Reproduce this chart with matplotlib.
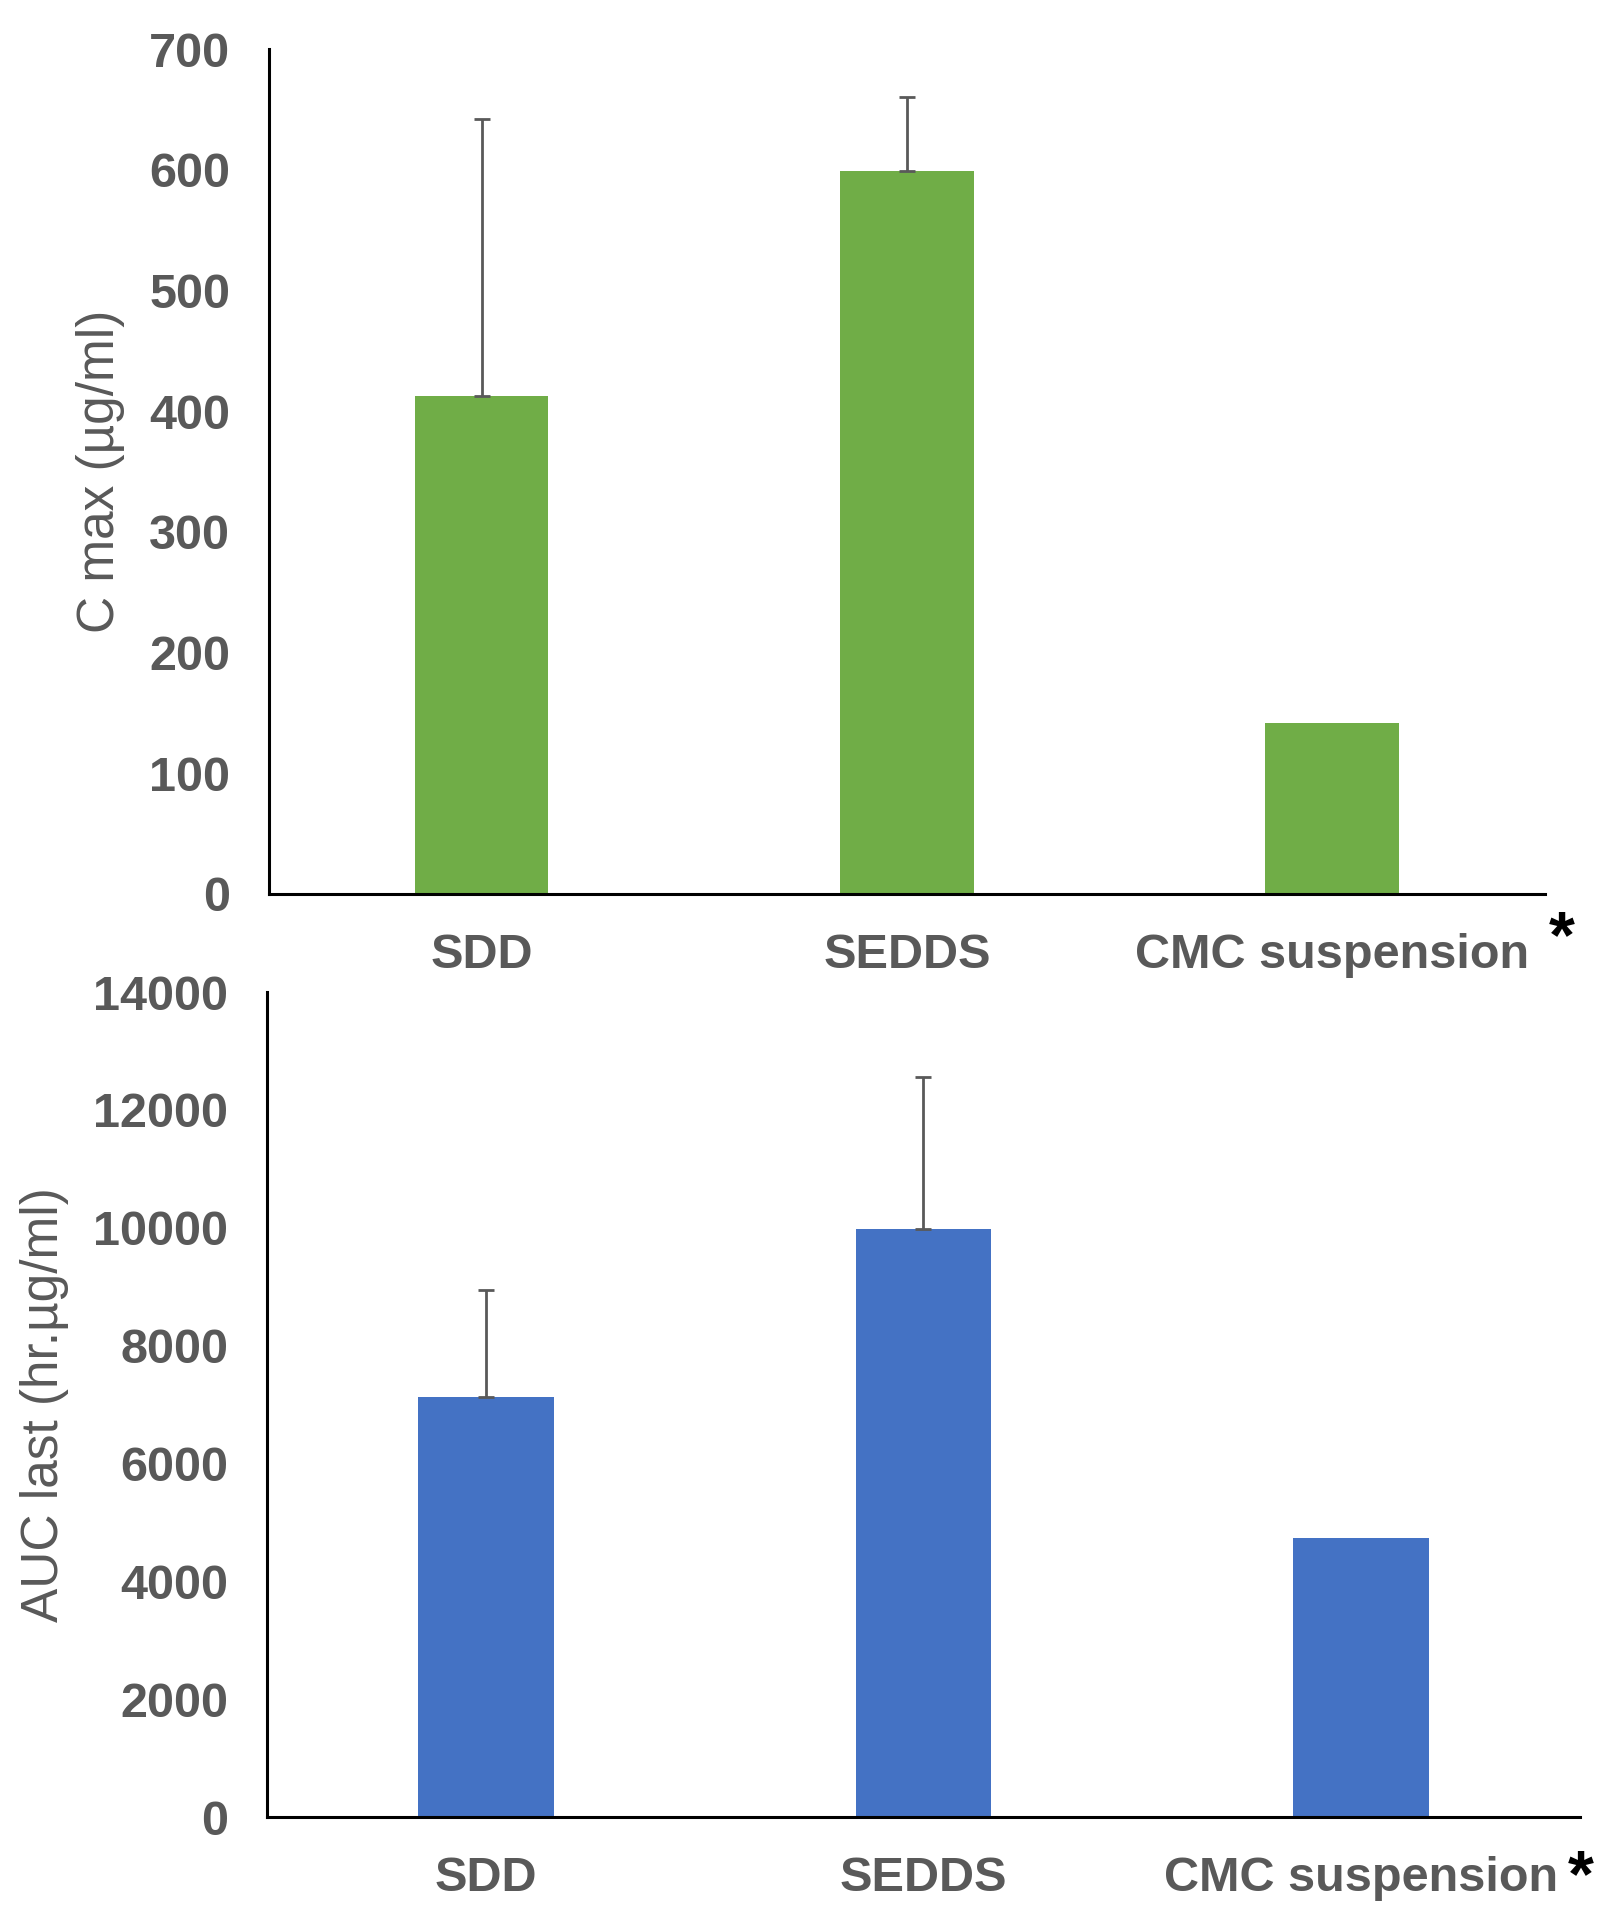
import matplotlib
matplotlib.use("Agg")
import matplotlib.pyplot as plt

categories = ["SDD", "SEDDS", "CMC suspension"]
cmax_values = [413, 599, 142]
cmax_err = [229, 61, 0]
auc_values = [7130, 9980, 4740]
auc_err = [1810, 2580, 0]
cmax_ticks = [0, 100, 200, 300, 400, 500, 600, 700]
auc_ticks = [0, 2000, 4000, 6000, 8000, 10000, 12000, 14000]

GREEN = "#70AD47"
BLUE = "#4472C4"
GRAY = "#595959"
FS = 35

plt.rcParams['font.family'] = ['Liberation Sans', 'DejaVu Sans']

fig = plt.figure(figsize=(16.15, 19.2), dpi=100)
ax1 = fig.add_axes([0.1666, 0.5344, 0.790, 0.440])
ax2 = fig.add_axes([0.1653, 0.0536, 0.813, 0.4297])

def style(ax, vals, errs, color, ticks, ylabel, width, lx):
    x = list(range(len(categories)))
    ax.bar(x, vals, width=width, color=color, zorder=2)
    errx = [xi for xi, e in zip(x, errs) if e > 0]
    errv = [v for v, e in zip(vals, errs) if e > 0]
    erre = [e for e in errs if e > 0]
    ax.errorbar(errx, errv, yerr=[[0] * len(erre), erre], fmt='none',
                ecolor=GRAY, elinewidth=2, capsize=6, capthick=2, zorder=3)
    ax.set_xlim(-0.5, 2.5)
    ax.set_ylim(ticks[0], ticks[-1])
    ax.set_yticks(ticks)
    ax.set_yticklabels([str(t) for t in ticks])
    ax.set_xticks(x)
    ax.set_xticklabels(categories)
    for s in ['top', 'right']:
        ax.spines[s].set_visible(False)
    for s in ['left', 'bottom']:
        ax.spines[s].set_linewidth(2.2)
        ax.spines[s].set_color('black')
    ax.tick_params(axis='y', length=0, pad=28, labelsize=FS, labelcolor=GRAY)
    ax.tick_params(axis='x', length=0, pad=28, labelsize=FS, labelcolor=GRAY)
    for lab in ax.get_xticklabels() + ax.get_yticklabels():
        lab.set_fontweight('bold')
    ax.set_ylabel(ylabel, fontsize=37, color=GRAY, fontweight='normal')
    ax.yaxis.set_label_coords(lx, 0.5)

style(ax1, cmax_values, cmax_err, GREEN, cmax_ticks, "C max (µg/ml)", 0.314, -0.113)
style(ax2, auc_values, auc_err, BLUE, auc_ticks, "AUC last (hr.µg/ml)", 0.31, -0.151)

fig.text(1562 / 1615, 1 - 940 / 1920, "*", fontsize=48, fontweight='bold',
         color='black', ha='center', va='center')
fig.text(1581 / 1615, 1 - 1879 / 1920, "*", fontsize=48, fontweight='bold',
         color='black', ha='center', va='center')

fig.savefig("out.png", dpi=100, facecolor='white')
